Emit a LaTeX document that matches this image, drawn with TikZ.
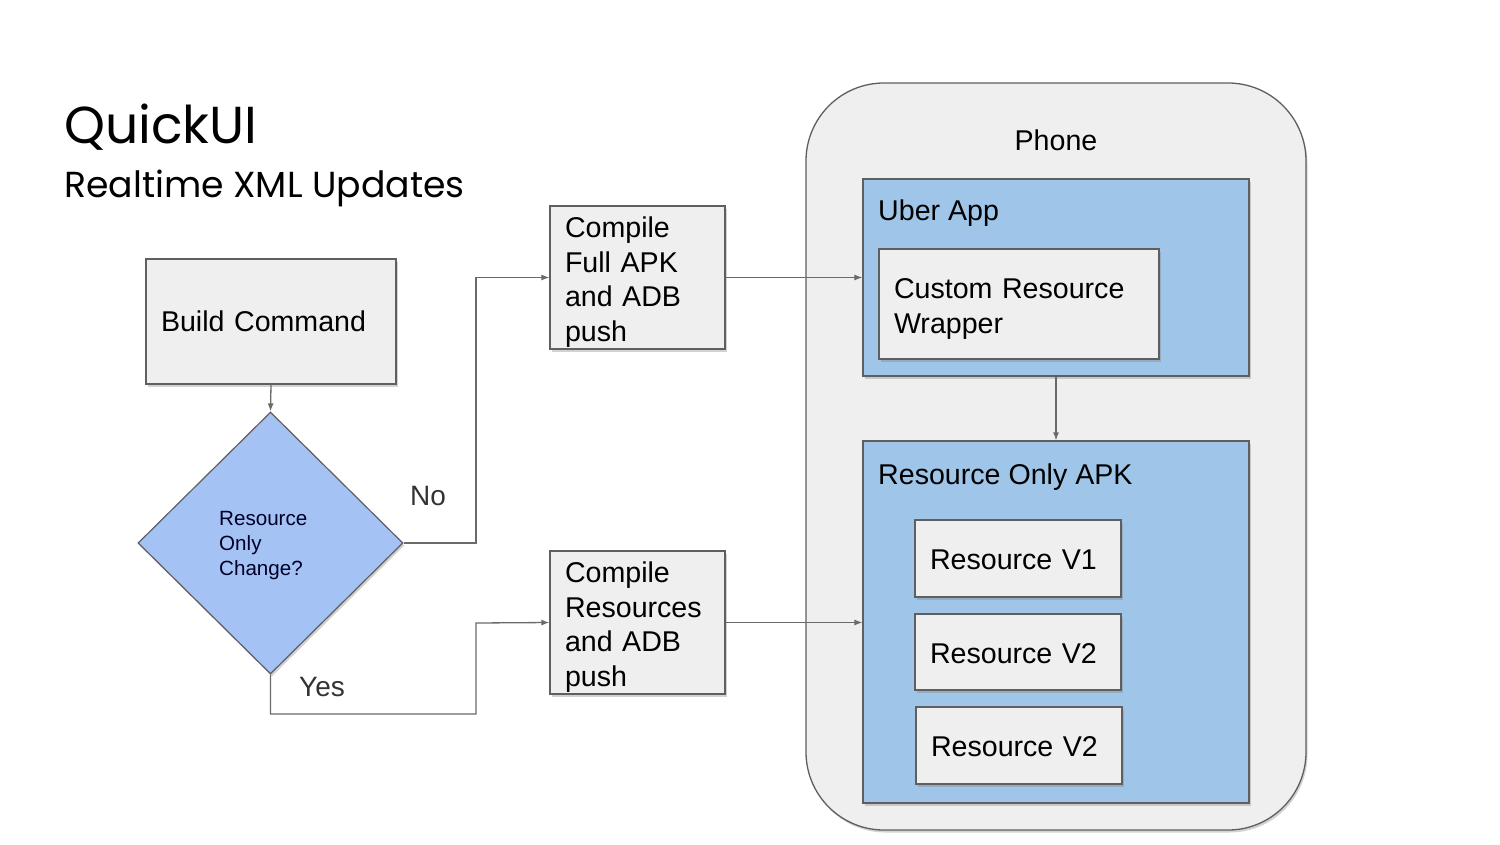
\documentclass[tikz,border=0pt]{standalone}
\usepackage{fontspec}
\setmainfont{Liberation Sans}
\newfontfamily\titlefont{Poppins}
\usetikzlibrary{shapes.geometric,arrows.meta,shadows}
\definecolor{boxgray}{HTML}{EFEFEF}
\definecolor{edgegray}{HTML}{5F5F5F}
\definecolor{appblue}{HTML}{9FC5E8}
\definecolor{diablue}{HTML}{A4C2F4}
\definecolor{linegray}{HTML}{6A6A6A}
\definecolor{labelgray}{HTML}{333333}
\newcommand\toppad[1]{\rule{0pt}{#1}}
\tikzset{
  shade/.style={drop shadow={opacity=0.35,shadow xshift=1.5pt,shadow yshift=-2.5pt}},
  graybox/.style={draw=edgegray,line width=1.2pt,fill=boxgray,shade,inner xsep=15pt,inner ysep=0pt,
    align=left,font=\fontsize{28.6}{34.5}\selectfont},
  bluebox/.style={draw=edgegray,line width=1.2pt,fill=appblue,shade},
  conn/.style={draw=linegray,line width=1.3pt,-{Latex[length=8pt,width=6pt]}},
  boxtext/.style={inner sep=0pt,anchor=west,font=\fontsize{28.6}{34.5}\selectfont},
}
\begin{document}
\begin{tikzpicture}[x=1pt,y=-1pt]
\useasboundingbox (0,0) rectangle (1500,844);
\fill[white] (0,0) rectangle (1500,844);

% title
\node[inner sep=0pt,anchor=base west,font=\titlefont\fontsize{52}{60}\selectfont] (title) at (64,143) {QuickUI};
\node[inner sep=0pt,anchor=base west,font=\titlefont\fontsize{36.2}{44}\selectfont] (subtitle) at (64,197) {Realtime XML Updates};

% phone
\node[draw=edgegray,line width=1.3pt,fill=boxgray,rounded corners=78pt,shade,minimum width=500pt,minimum height=747pt,inner sep=0pt] (phone) at (1056,456.5) {};
\node[boxtext,anchor=center] (phonelabel) at (1056,140) {Phone};

% uber app
\node[bluebox,minimum width=386pt,minimum height=197pt,inner sep=0pt] (uber) at (1056,277.5) {};
\node[boxtext] (uberlabel) at (878,213.5) {Uber App};
\node[graybox,text width=250pt,minimum height=110pt] (wrapper) at (1019,304) {\toppad{30pt}Custom Resource\\Wrapper};

% resource only apk
\node[bluebox,minimum width=386pt,minimum height=362pt,inner sep=0pt] (resapk) at (1056,622) {};
\node[boxtext] (resapklabel) at (878,477) {Resource Only APK};
\node[graybox,text width=176pt,minimum height=77pt] (rv1) at (1018,558.5) {\toppad{23pt}Resource V1};
\node[graybox,text width=176pt,minimum height=76pt] (rv2) at (1018,652) {\toppad{23pt}Resource V2};
\node[graybox,text width=176pt,minimum height=77pt] (rv3) at (1019,745.5) {\toppad{23pt}Resource V2};

% left flow
\node[graybox,text width=220pt,minimum height=125pt] (build) at (271,321.5) {Build Command};
\node[diamond,draw=edgegray,line width=1.2pt,fill=diablue,minimum width=265pt,minimum height=262pt,inner sep=0pt,shade] (dec) at (270.5,543) {};
\node[inner sep=0pt,anchor=west,align=left,text=black!85!blue,font=\fontsize{20.6}{25}\selectfont] (dectext) at (219,546) {Resource\\Only\\Change?};

\node[graybox,text width=145pt,minimum height=143pt] (full) at (637.5,277.5) {\toppad{30pt}Compile\\Full APK\\and ADB\\push};
\node[graybox,text width=145pt,minimum height=143pt] (resc) at (637.5,622.5) {\toppad{30pt}Compile\\Resources\\and ADB\\push};

\node[inner sep=0pt,text=labelgray,font=\fontsize{28}{34}\selectfont] (nolabel) at (428,496) {No};
\node[inner sep=0pt,text=labelgray,font=\fontsize{28}{34}\selectfont] (yeslabel) at (322,687) {Yes};

% connectors
\draw[conn] (build.south) -- (dec.north);
\draw[conn] (dec.east) -- (476,543) |- (full.west);
\draw[conn] (dec.south) -- (270.5,714) -| (476,623) -- (resc.west);
\draw[conn] (full.east) -- (full.east -| uber.west);
\draw[conn] (resc.east) -- (resc.east -| resapk.west);
\draw[conn] (uber.south) -- (resapk.north);
\end{tikzpicture}
\end{document}
